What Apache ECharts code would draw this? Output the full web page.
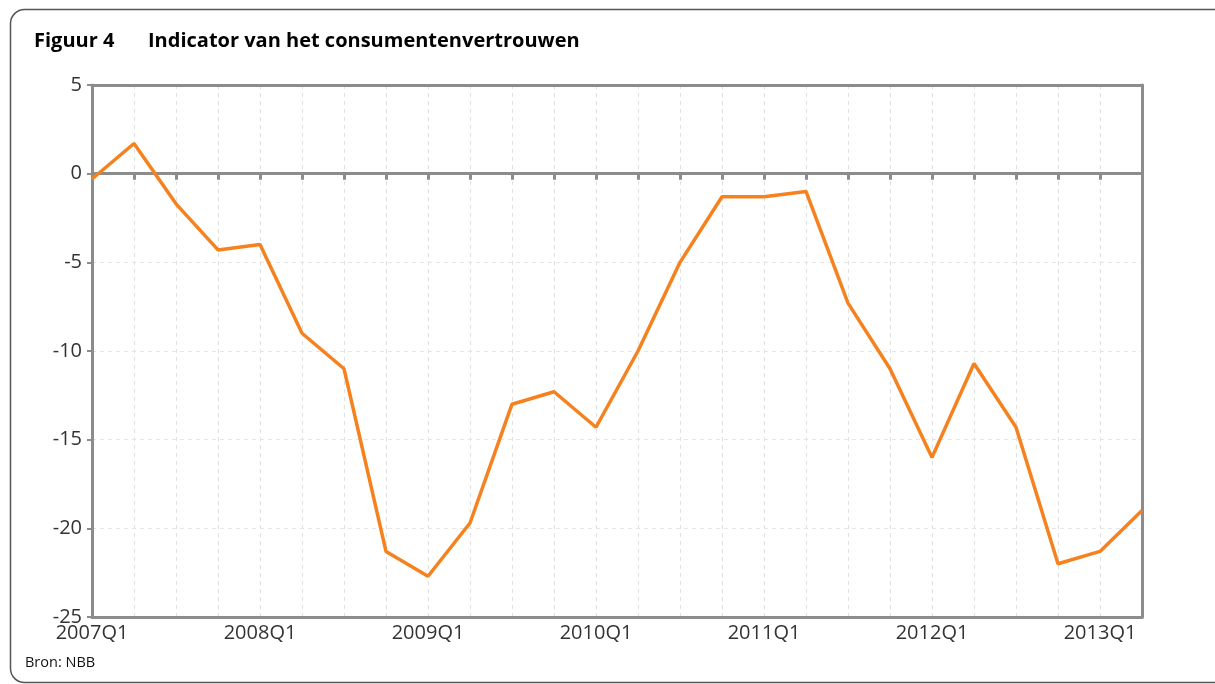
<!DOCTYPE html>
<html><head><meta charset="utf-8">
<script src="https://cdn.jsdelivr.net/npm/echarts@6/dist/echarts.min.js"></script>
<style>html,body{margin:0;padding:0;background:#fff}#c{width:1215px;height:684px}</style>
</head><body><div id="c"></div>
<script>
const categories = ["2007Q1","2007Q2","2007Q3","2007Q4","2008Q1","2008Q2","2008Q3","2008Q4","2009Q1","2009Q2","2009Q3","2009Q4","2010Q1","2010Q2","2010Q3","2010Q4","2011Q1","2011Q2","2011Q3","2011Q4","2012Q1","2012Q2","2012Q3","2012Q4","2013Q1","2013Q2"];
const confidence = [-0.3,1.7,-1.7,-4.3,-4.0,-9.0,-11.0,-21.3,-22.7,-19.7,-13.0,-12.3,-14.3,-10.0,-5.0,-1.3,-1.3,-1.0,-7.3,-11.0,-16.0,-10.7,-14.3,-22.0,-21.3,-19.0];
const yTicks = {min:-25, max:5, step:5};
const titleNum = "Figuur 4";
const titleText = "Indicator van het consumentenvertrouwen";
const sourceText = "Bron: NBB";

const chart = echarts.init(document.getElementById('c'), null, {renderer:'canvas'});
const FONT = "'Open Sans', 'DejaVu Sans', sans-serif";
const AX = '#8c8c8c';
chart.setOption({
  animation:false,
  backgroundColor:'#fff',
  textStyle:{fontFamily:FONT},
  graphic:[
    {type:'rect', shape:{x:10.5,y:9.5,width:1220,height:673,r:14}, style:{fill:'none',stroke:'#555',lineWidth:1.5}, z:-1},
    {type:'text', left:34, top:31, style:{text:titleNum, font:"bold 20px "+FONT, fill:'#000'}},
    {type:'text', left:148, top:31, style:{text:titleText, font:"bold 20px "+FONT, fill:'#000'}},
    {type:'text', left:25, top:655, style:{text:sourceText, font:"14.5px "+FONT, fill:'#111'}}
  ],
  grid:{left:92, right:73, top:85, bottom:67, show:false},
  xAxis:[
    {type:'category', data:categories, boundaryGap:false, position:'bottom',
     axisLine:{show:true, onZero:false, lineStyle:{color:AX,width:3}},
     axisTick:{show:false},
     axisLabel:{interval:3, color:'#333', fontSize:20, margin:6, fontFamily:FONT},
     splitLine:{show:true, interval:0, lineStyle:{color:'#e0e0e0', type:[4,4], width:1}}},
    {type:'category', data:categories, boundaryGap:false, position:'bottom',
     axisLine:{show:true, onZero:true, lineStyle:{color:AX,width:3}},
     axisTick:{show:true, interval:0, inside:false, length:6, lineStyle:{color:AX,width:3}},
     axisLabel:{show:false}, splitLine:{show:false}},
    {type:'category', data:categories, boundaryGap:false, position:'top',
     axisLine:{show:true, onZero:false, lineStyle:{color:AX,width:3}},
     axisTick:{show:false}, axisLabel:{show:false}, splitLine:{show:false}}
  ],
  yAxis:[
    {type:'value', min:yTicks.min, max:yTicks.max, interval:yTicks.step,
     axisLine:{show:true, lineStyle:{color:AX,width:3}},
     axisTick:{show:true, length:5, lineStyle:{color:AX,width:2}},
     axisLabel:{color:'#333', fontSize:20, margin:10, fontFamily:FONT},
     splitLine:{show:true, lineStyle:{color:'#e6e6e6', type:[4,4], width:1}}},
    {type:'value', min:yTicks.min, max:yTicks.max, interval:yTicks.step, position:'right',
     axisLine:{show:true, onZero:false, lineStyle:{color:AX,width:3}},
     axisTick:{show:false}, axisLabel:{show:false}, splitLine:{show:false}}
  ],
  series:[{type:'line', data:confidence, xAxisIndex:0, yAxisIndex:0, showSymbol:false, symbol:'none',
     lineStyle:{color:'#f5821f', width:3.5}, z:5}]
});
</script></body></html>
